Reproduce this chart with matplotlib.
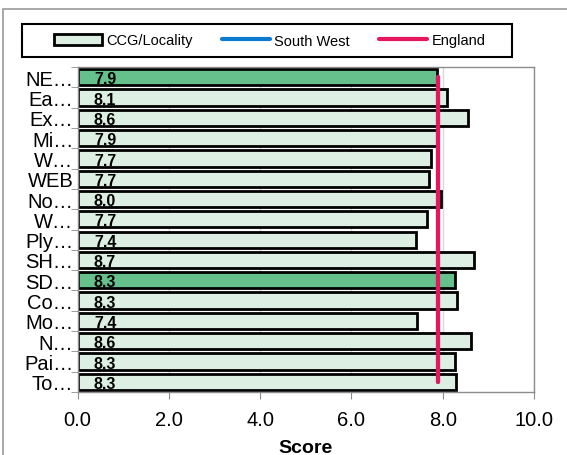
import matplotlib.pyplot as plt
from matplotlib.patches import Rectangle, Patch
from matplotlib.lines import Line2D

plt.rcParams['font.family'] = ['Liberation Sans', 'DejaVu Sans']

labels = ['NE…', 'Ea…', 'Ex…', 'Mi…', 'W…', 'WEB', 'No…', 'W…',
          'Ply…', 'SH…', 'SD…', 'Co…', 'Mo…', 'N…', 'Pai…', 'To…']
scores = [7.87, 8.10, 8.56, 7.87, 7.74, 7.70, 7.97, 7.65,
          7.42, 8.68, 8.27, 8.31, 7.43, 8.62, 8.28, 8.29]
highlight = [True, False, False, False, False, False, False, False,
             False, False, True, False, False, False, False, False]
south_west = [7.9] * 16
england = [7.9] * 16
xticks = [0, 2, 4, 6, 8, 10]

light = '#DDEFE3'
dark = '#66C08C'
red = '#E8175D'
blue = '#0A7BD0'
grey = '#8C8C8C'

W, H = 567, 456
fig = plt.figure(figsize=(W / 100, H / 100), dpi=100)
ax = fig.add_axes([77.5 / W, 1 - 393 / H, (534 - 77.5) / W, (393 - 68) / H])

ypos = list(range(len(labels)))
colors = [dark if h else light for h in highlight]
ax.barh(ypos, scores, height=0.8, color=colors, edgecolor='black',
        linewidth=2, zorder=2)
for y, v in zip(ypos, scores):
    ax.text(0.36, y + 0.08, f'{v:.1f}', ha='left', va='center',
            fontsize=11.5, fontweight='bold', zorder=3)

ax.plot(south_west, ypos, color=blue, linewidth=3, solid_capstyle='round', zorder=3)
ax.plot(england, ypos, color=red, linewidth=3, solid_capstyle='round', zorder=4)

ax.set_xlim(0, 10)
ax.set_ylim(len(labels) - 0.5, -0.5)
ax.set_xticks(xticks)
ax.set_xticklabels([f'{t:.1f}' for t in xticks], fontsize=14.5)
ax.set_yticks(ypos)
ax.set_yticklabels(labels, fontsize=14.5)
ax.set_yticks([i - 0.5 for i in range(len(labels) + 1)], minor=True)
ax.tick_params(axis='y', which='major', length=0, pad=3)
ax.tick_params(axis='y', which='minor', length=5, color=grey)
ax.tick_params(axis='x', length=5, color=grey, pad=8)
ax.xaxis.grid(True, color='#D9D9D9', linewidth=1)
ax.set_axisbelow(True)
for s in ax.spines.values():
    s.set_color(grey)
    s.set_linewidth(1)
ax.set_xlabel('Score', fontsize=14, fontweight='bold', labelpad=7)

handles = [Patch(facecolor=light, edgecolor='black', linewidth=2),
           Line2D([], [], color=blue, linewidth=3, solid_capstyle='round'),
           Line2D([], [], color=red, linewidth=3, solid_capstyle='round')]
fig.legend(handles, ['CCG/Locality', 'South West', 'England'],
           loc='center', ncol=3, bbox_to_anchor=(269.5 / W, 1 - 41.5 / H),
           fontsize=10.5, handlelength=3.3, handletextpad=0.3,
           columnspacing=2.0, frameon=False, borderpad=0)
fig.add_artist(Rectangle((22 / W, 1 - 58 / H), 490 / W, 33 / H,
                         transform=fig.transFigure, fill=False,
                         edgecolor='black', linewidth=1.5))

fig.add_artist(Rectangle((3 / W, -0.1), 1.2, 1 - 10 / H + 0.1,
                         transform=fig.transFigure, fill=False,
                         edgecolor='#999999', linewidth=1.2))

fig.savefig('out.png', dpi=100)
